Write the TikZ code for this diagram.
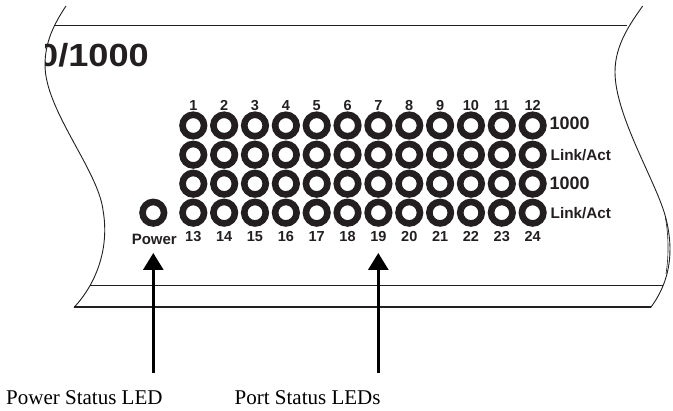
\documentclass[tikz,border=0pt]{standalone}
\usepackage{fontspec}
\setmainfont{Liberation Sans}
\newfontfamily\capfont{Liberation Serif}
\usetikzlibrary{arrows.meta}
\definecolor{ink}{HTML}{231F20}
\tikzset{
  led/.style={circle,draw=ink,line width=6.6pt,minimum size=21.5pt,inner sep=0pt,outer sep=0pt},
  numlabel/.style={text=ink,font=\fontsize{14.5}{15}\selectfont\bfseries,inner sep=0pt,anchor=base},
  sidelabel/.style={text=ink,font=\fontsize{15.3}{16}\selectfont\bfseries,inner sep=0pt,anchor=base west},
  sidelabelb/.style={text=ink,font=\fontsize{18}{19}\selectfont\bfseries,inner sep=0pt,anchor=base west},
  caseline/.style={draw=ink,line width=0.9pt},
  callout/.style={draw=black,line width=3pt,-{Triangle[length=17pt,width=20pt]},shorten >=0pt},
  captext/.style={font=\capfont\fontsize{21}{23}\selectfont,inner sep=0pt,anchor=base west}
}
\begin{document}
\begin{tikzpicture}[x=1pt,y=-1pt]
\useasboundingbox (0,0) rectangle (673,411);
% case outline
\begin{scope}
\clip (45,30) rectangle (200,80);
\node[text=ink,font=\fontsize{32}{33}\selectfont\bfseries,inner sep=0pt,anchor=base east] (title) at (149,67) {\scalebox{1.13}[1]{0/1000}};
\end{scope}
\draw[caseline] (66,6) .. controls (54,24) and (45,42) .. (45,65) .. controls (45,110) and (98,170) .. (103,210) .. controls (110,250) and (95,285) .. (74,307.5);
\draw[caseline] (642.7,6) .. controls (630,24) and (615,45) .. (615,72) .. controls (615,115) and (655,180) .. (665,215) .. controls (672,240) and (675,275) .. (650.7,307.5);
\draw[draw=ink,line width=0.6pt] (665.5,218) .. controls (668.5,235) and (669,255) .. (666,274);
\coordinate (tl) at (54,25.7); \coordinate (tr) at (627,25.7);
\coordinate (ml) at (90,285.7); \coordinate (mr) at (662.7,285.7);
\coordinate (bl) at (74,307.5); \coordinate (br) at (650.7,307.5);
\draw[caseline] (tl) -- (tr);
\draw[caseline] (ml) -- (mr);
\draw[draw=ink,line width=2pt] (bl) -- (br);
% LEDs
\foreach \c in {1,...,12}{
  \pgfmathsetmacro{\xx}{193.3+30.85*(\c-1)}
  \foreach \r/\yy in {a/125.5,b/154.7,c/183.7,d/212.7}{
    \node[led] (led\r\c) at (\xx,\yy) {};
  }
  \pgfmathtruncatemacro{\lo}{\c+12}
  \node[numlabel] (top\c) at (\xx,110.5) {\c};
  \node[numlabel] (bot\c) at (\xx,241.7) {\lo};
}
\node[led] (power) at (153.3,212.7) {};
\node[numlabel,font=\fontsize{15}{16}\selectfont\bfseries] (powerlabel) at (154.3,245) {Power};
\node[sidelabelb] (s1) at (549.5,130) {1000};
\node[sidelabel] (s2) at (550.5,160.5) {Link/Act};
\node[sidelabelb] (s3) at (549.5,189.7) {1000};
\node[sidelabel] (s4) at (550.5,218.5) {Link/Act};
% callouts
\node[captext] (capa) at (6,405) {Power Status LED};
\node[captext] (capb) at (234.5,405) {Port Status LEDs};
\coordinate (a0) at (153.3,372.7); \coordinate (a1) at (153.3,253);
\coordinate (b0) at (378.3,372.7); \coordinate (b1) at (378.3,253);
\draw[callout] (a0) -- (a1);
\draw[callout] (b0) -- (b1);
\end{tikzpicture}
\end{document}
